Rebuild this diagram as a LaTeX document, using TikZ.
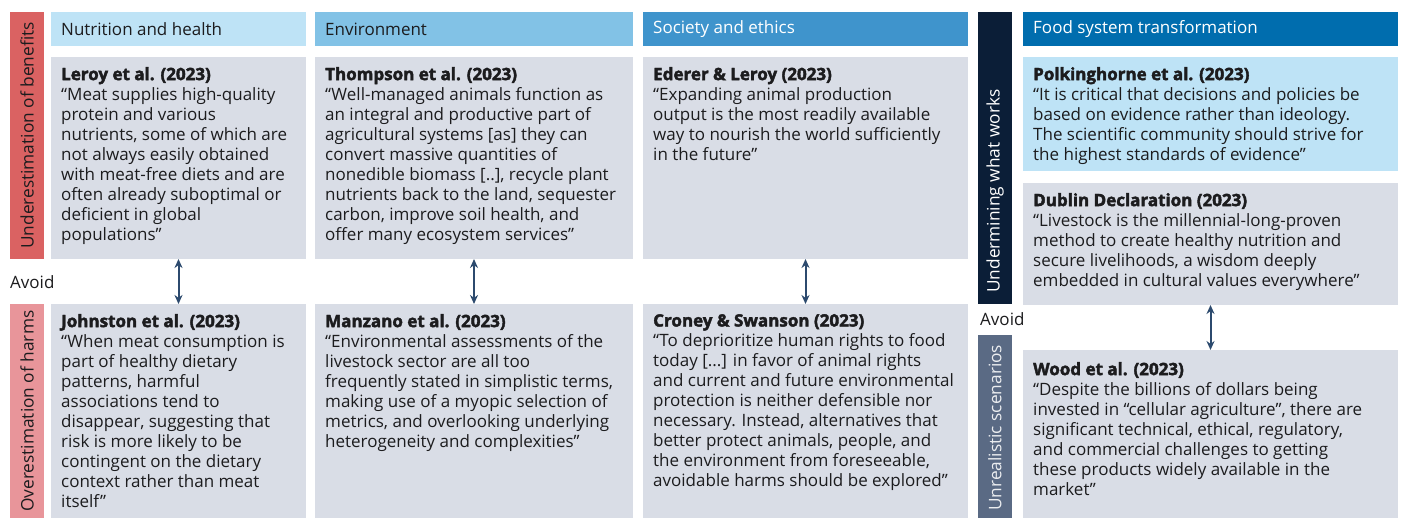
\documentclass[tikz,border=0pt]{standalone}
\usepackage{fontspec}
\setmainfont{Open Sans}[BoldFeatures={FakeBold=2.4}]
\usetikzlibrary{arrows.meta}

\definecolor{ink}{HTML}{1C1C1E}
\definecolor{hdrA}{HTML}{BEE3F6}
\definecolor{hdrB}{HTML}{82C2E6}
\definecolor{hdrC}{HTML}{3F94CC}
\definecolor{hdrD}{HTML}{006DAE}
\definecolor{quotebg}{HTML}{D9DDE6}
\definecolor{barRed}{HTML}{DA6262}
\definecolor{barPink}{HTML}{E8959A}
\definecolor{barNavy}{HTML}{0B1E37}
\definecolor{barSlate}{HTML}{5A6A84}
\definecolor{arrowc}{HTML}{2C4A6E}

\newcommand{\bodyfont}{\fontsize{17}{20}\selectfont}
\newcommand{\sidefont}{\fontsize{17.3}{20}\selectfont}

\tikzset{
  panel/.style={anchor=north west, inner sep=0, outer sep=0, draw=none},
  hdrtext/.style={anchor=west, inner sep=0, font=\bodyfont},
  quote/.style={anchor=north west, inner sep=0, align=left, font=\bodyfont, text=ink},
  sidelabel/.style={rotate=90, anchor=west, inner sep=0, font=\sidefont},
  avoidarrow/.style={draw=arrowc, line width=2pt, {Stealth[length=9pt,width=8pt]}-{Stealth[length=9pt,width=8pt]}},
}

\begin{document}
\begin{tikzpicture}[x=1pt,y=-1pt]
\useasboundingbox[fill=white] (0,0) rectangle (1403,518);

% ---- side bars ----
\node[panel, fill=barRed,   minimum width=34, minimum height=247] (bar1) at (10,12) {};
\node[panel, fill=barPink,  minimum width=34, minimum height=214] (bar2) at (10,304) {};
\node[panel, fill=barNavy,  minimum width=34, minimum height=292] (bar3) at (978,12) {};
\node[panel, fill=barSlate, minimum width=34, minimum height=183] (bar4) at (978,335) {};

\node[sidelabel, text=ink]   (lab1) at (27,249) {Underestimation of benefits};
\node[sidelabel, text=ink]   (lab2) at (27,512) {Overestimation of harms};
\node[sidelabel, text=white] (lab3) at (995,293) {Undermining what works};
\node[sidelabel, text=white!88!barSlate] (lab4) at (995,511) {Unrealistic scenarios};

% ---- column headers ----
\node[panel, fill=hdrA, minimum width=255, minimum height=34] (h1) at (51,12) {};
\node[panel, fill=hdrB, minimum width=318, minimum height=34] (h2) at (315,12) {};
\node[panel, fill=hdrC, minimum width=325, minimum height=34] (h3) at (643,12) {};
\node[panel, fill=hdrD, minimum width=375, minimum height=34] (h4) at (1023,12) {};

\node[hdrtext, text=ink]   (h1t) at ([xshift=10pt]h1.west) {Nutrition and health};
\node[hdrtext, text=ink]   (h2t) at ([xshift=10pt]h2.west) {Environment};
\node[hdrtext, text=white] (h3t) at ([xshift=10pt]h3.west) {Society and ethics};
\node[hdrtext, text=white] (h4t) at ([xshift=10pt]h4.west) {Food system transformation};

% ---- quote panels ----
\node[panel, fill=quotebg, minimum width=255, minimum height=202] (q1) at (51,57) {};
\node[panel, fill=quotebg, minimum width=255, minimum height=214] (r1) at (51,304) {};
\node[panel, fill=quotebg, minimum width=318, minimum height=202] (q2) at (315,57) {};
\node[panel, fill=quotebg, minimum width=318, minimum height=214] (r2) at (315,304) {};
\node[panel, fill=quotebg, minimum width=325, minimum height=202] (q3) at (643,57) {};
\node[panel, fill=quotebg, minimum width=325, minimum height=214] (r3) at (643,304) {};
\node[panel, fill=hdrA,    minimum width=375, minimum height=114] (q4) at (1023,57) {};
\node[panel, fill=quotebg, minimum width=375, minimum height=122] (q5) at (1023,183) {};
\node[panel, fill=quotebg, minimum width=375, minimum height=168] (r4) at (1023,350) {};

% ---- quote texts ----
\node[quote] (q1t) at ([shift={(10,10)}]q1.north west) {\textbf{Leroy et al. (2023)}\\
“Meat supplies high-quality\\
protein and various\\
nutrients, some of which are\\
not always easily obtained\\
with meat-free diets and are\\
often already suboptimal or\\
deficient in global\\
populations”};

\node[quote] (r1t) at ([shift={(10,10)}]r1.north west) {\textbf{Johnston et al. (2023)}\\
“When meat consumption is\\
part of healthy dietary\\
patterns, harmful\\
associations tend to\\
disappear, suggesting that\\
risk is more likely to be\\
contingent on the dietary\\
context rather than meat\\
itself”};

\node[quote] (q2t) at ([shift={(10,10)}]q2.north west) {\textbf{Thompson et al. (2023)}\\
“Well-managed animals function as\\
an integral and productive part of\\
agricultural systems [as] they can\\
convert massive quantities of\\
nonedible biomass [..], recycle plant\\
nutrients back to the land, sequester\\
carbon, improve soil health, and\\
offer many ecosystem services”};

\node[quote] (r2t) at ([shift={(10,10)}]r2.north west) {\textbf{Manzano et al. (2023)}\\
“Environmental assessments of the\\
livestock sector are all too\\
frequently stated in simplistic terms,\\
making use of a myopic selection of\\
metrics, and overlooking underlying\\
heterogeneity and complexities”};

\node[quote] (q3t) at ([shift={(10,10)}]q3.north west) {\textbf{Ederer \& Leroy (2023)}\\
“Expanding animal production\\
output is the most readily available\\
way to nourish the world sufficiently\\
in the future”};

\node[quote] (r3t) at ([shift={(10,10)}]r3.north west) {\textbf{Croney \& Swanson (2023)}\\
“To deprioritize human rights to food\\
today [...] in favor of animal rights\\
and current and future environmental\\
protection is neither defensible nor\\
necessary. Instead, alternatives that\\
better protect animals, people, and\\
the environment from foreseeable,\\
avoidable harms should be explored”};

\node[quote] (q4t) at ([shift={(10,10)}]q4.north west) {\textbf{Polkinghorne et al. (2023)}\\
“It is critical that decisions and policies be\\
based on evidence rather than ideology.\\
The scientific community should strive for\\
the highest standards of evidence”};

\node[quote] (q5t) at ([shift={(10,10)}]q5.north west) {\textbf{Dublin Declaration (2023)}\\
“Livestock is the millennial-long-proven\\
method to create healthy nutrition and\\
secure livelihoods, a wisdom deeply\\
embedded in cultural values everywhere”};

\node[quote] (r4t) at ([shift={(10,12)}]r4.north west) {\textbf{Wood et al. (2023)}\\
“Despite the billions of dollars being\\
invested in “cellular agriculture”, there are\\
significant technical, ethical, regulatory,\\
and commercial challenges to getting\\
these products widely available in the\\
market”};

% ---- avoid labels and arrows ----
\node[hdrtext, text=ink] (av1) at (10,282) {Avoid};
\node[hdrtext, text=ink] (av2) at (980,319) {Avoid};

\draw[avoidarrow] (q1.south) -- (r1.north);
\draw[avoidarrow] (q2.south) -- (r2.north);
\draw[avoidarrow] (q3.south) -- (r3.north);
\draw[avoidarrow] (q5.south) -- (r4.north);
\end{tikzpicture}
\end{document}
